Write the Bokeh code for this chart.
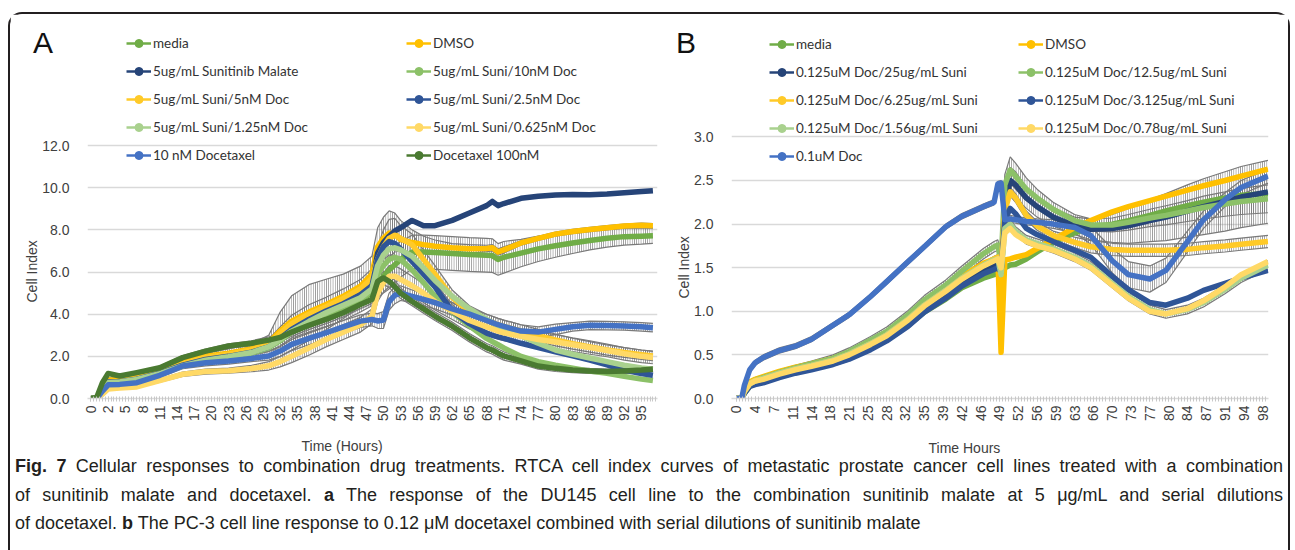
import math
from bokeh.plotting import figure
from bokeh.models import (Range1d, FixedTicker, NumeralTickFormatter, Legend, LegendItem,
                          Title, Div)
from bokeh.layouts import row, column
from bokeh.embed import file_html
from bokeh.resources import INLINE

NAN = float("nan")

# ---------------- Panel A data (x = category position, ticks every 3) ----------------
A_x = [0, 1, 2, 3, 5, 8, 12, 16, 20, 24, 28, 31, 33, 35, 38, 41, 44, 47, 49,
       50, 51, 52, 53, 54, 56, 58, 60, 63, 66, 69, 70, 71, 72, 75, 78, 81, 84, 87, 90, 93, 96, 98]
A_tick_labels = ["0", "2", "5", "8", "11", "14", "17", "20", "23", "26", "29", "32", "35", "38",
                 "41", "44", "47", "50", "53", "56", "59", "62", "65", "68", "71", "74", "77",
                 "80", "83", "86", "89", "92", "95"]
A_yticks = [0, 2, 4, 6, 8, 10, 12]

A_names = ["media", "DMSO", "5ug/mL Sunitinib Malate", "5ug/mL Suni/10nM Doc",
           "5ug/mL Suni/5nM Doc", "5ug/mL Suni/2.5nM Doc", "5ug/mL Suni/1.25nM Doc",
           "5ug/mL Suni/0.625nM Doc", "10 nM Docetaxel", "Docetaxel 100nM"]
A_colors = ["#70AD47", "#FFC000", "#264478", "#8CC168", "#FFCA28", "#2F5597",
            "#A9D18E", "#FFD966", "#4472C4", "#4A7A31"]

A_media = [0, 0, 0.45, 0.8, 0.82, 0.95, 1.22, 1.6, 1.9, 2.05, 2.25, 2.45, 2.75, 3.2, 3.6, 3.95, 4.3, 4.7, 5.0,
           5.5, 5.8, 6.1, 6.35, 6.6, 6.95, 6.95, 6.93, 6.88, 6.83, 6.8, 6.78, 6.6, 6.7, 6.9, 7.1, 7.25, 7.38, 7.5, 7.6, 7.68, 7.7, 7.72]
A_dmso = [0, 0, 0.5, 0.88, 0.88, 1.0, 1.32, 1.72, 2.0, 2.15, 2.35, 2.65, 3.2, 3.67, 4.1, 4.46, 4.85, 5.33, 5.9,
          7.2, 7.6, 7.85, 7.8, 7.55, 7.4, 7.3, 7.22, 7.15, 7.1, 7.12, 7.15, 6.95, 7.05, 7.38, 7.6, 7.8, 7.92, 8.02, 8.1, 8.18, 8.22, 8.2]
A_suni = [0, 0, 0.45, 0.78, 0.8, 0.92, 1.2, 1.58, 1.85, 2.0, 2.2, 2.5, 2.9, 3.35, 3.8, 4.15, 4.5, 4.95, 5.4,
          6.9, 7.4, 7.7, 7.95, 8.1, 8.45, 8.2, 8.2, 8.45, 8.8, 9.15, 9.35, 9.15, 9.25, 9.5, 9.6, 9.66, 9.68, 9.67, 9.7, 9.76, 9.82, 9.86]
A_doc10 = [0, 0, 0.42, 0.75, 0.78, 0.9, 1.18, 1.55, 1.82, 1.98, 2.15, 2.4, 2.75, 3.15, 3.55, 3.9, 4.25, 4.7, 5.1,
           5.9, 6.3, 6.6, 6.7, 6.6, 6.1, 5.5, 4.85, 4.1, 3.45, 2.85, 2.7, 2.55, 2.4, 2.0, 1.75, 1.58, 1.44, 1.3, 1.2, 1.05, 0.92, 0.85]
A_doc5 = [0, 0, 0.45, 0.8, 0.82, 0.95, 1.25, 1.65, 1.95, 2.1, 2.3, 2.6, 3.1, 3.55, 4.0, 4.35, 4.75, 5.2, 5.7,
          6.6, 7.2, 7.6, 7.75, 7.6, 7.3, 6.6, 5.9, 4.8, 4.1, 3.7, 3.6, 3.5, 3.42, 3.2, 2.98, 2.78, 2.6, 2.45, 2.3, 2.18, 2.08, 2.02]
A_doc2p5 = [0, 0, 0.45, 0.78, 0.8, 0.92, 1.2, 1.58, 1.85, 2.0, 2.2, 2.45, 2.85, 3.28, 3.75, 4.15, 4.5, 4.93, 5.35,
            6.6, 7.2, 7.45, 7.35, 7.1, 6.5, 5.9, 5.3, 4.15, 3.55, 3.1, 3.0, 2.92, 2.85, 2.62, 2.42, 2.22, 2.02, 1.82, 1.6, 1.35, 1.18, 1.1]
A_doc1p25 = [0, 0, 0.42, 0.75, 0.78, 0.9, 1.18, 1.55, 1.82, 1.98, 2.18, 2.45, 2.8, 3.2, 3.65, 4.07, 4.42, 4.78, 5.2,
             6.3, 6.8, 7.1, 7.15, 7.05, 6.75, 6.2, 5.6, 4.85, 4.25, 3.75, 3.6, 3.45, 3.3, 2.97, 2.62, 2.3, 2.1, 1.92, 1.75, 1.58, 1.45, 1.39]
A_doc0p625 = [0, 0, 0.2, 0.45, 0.5, 0.55, 0.85, 1.15, 1.28, 1.32, 1.42, 1.55, 1.75, 2.0, 2.4, 2.8, 3.15, 3.5, 3.9,
              5.0, 5.5, 5.8, 5.8, 5.65, 5.35, 5.0, 4.6, 4.15, 3.7, 3.4, 3.3, 3.2, 3.12, 2.95, 2.8, 2.68, 2.55, 2.42, 2.28, 2.12, 2.0, 1.95]
A_dtx10 = [0, 0, 0.35, 0.65, 0.67, 0.75, 1.1, 1.54, 1.7, 1.78, 1.9, 2.02, 2.25, 2.57, 2.85, 3.12, 3.4, 3.67, 3.75,
           3.68, 3.72, 4.6, 4.9, 5.0, 4.85, 4.7, 4.55, 4.25, 4.0, 3.7, 3.6, 3.5, 3.42, 3.2, 3.15, 3.28, 3.4, 3.47, 3.46, 3.44, 3.4, 3.36]
A_dtx100 = [0, 0.05, 0.75, 1.19, 1.07, 1.23, 1.46, 1.94, 2.25, 2.49, 2.62, 2.77, 2.9, 3.15, 3.47, 3.75, 4.07, 4.46, 4.7,
            5.56, 5.72, 5.56, 5.3, 5.0, 4.6, 4.25, 3.9, 3.43, 2.88, 2.41, 2.3, 2.15, 2.02, 1.78, 1.54, 1.43, 1.35, 1.31, 1.28, 1.31, 1.35, 1.39]

# error (SD) read from the grey whiskers
A_media_err = [0, 0, 0.05, 0.05, 0.05, 0.08, 0.1, 0.1, 0.1, 0.12, 0.15, 0.2, 0.3, 0.4, 0.5, 0.55, 0.6, 0.6, 0.6,
               0.7, 0.8, 0.9, 0.9, 0.85, 0.8, 0.8, 0.8, 0.8, 0.8, 0.8, 0.8, 0.75, 0.75, 0.65, 0.6, 0.55, 0.5, 0.45, 0.42, 0.4, 0.38, 0.36]
A_dmso_err = [0, 0, 0.05, 0.1, 0.1, 0.1, 0.12, 0.15, 0.15, 0.2, 0.25, 0.35, 0.9, 1.2, 1.3, 1.2, 1.05, 0.95, 0.85,
              0.9, 1.0, 1.05, 1.0, 0.9, 0.6, 0.4, 0.3, 0.2, 0.2, 0.15, 0.15, 0.15, 0.15, 0.1, 0.1, 0.1, 0.1, 0.1, 0.1, 0.1, 0.1, 0.1]
A_doc5_err = [0, 0, 0.03, 0.05, 0.05, 0.05, 0.08, 0.1, 0.1, 0.12, 0.15, 0.2, 0.3, 0.4, 0.45, 0.45, 0.45, 0.45, 0.45,
              0.6, 0.8, 0.9, 0.8, 0.6, 0.5, 0.45, 0.4, 0.35, 0.3, 0.3, 0.3, 0.3, 0.3, 0.3, 0.3, 0.28, 0.26, 0.25, 0.24, 0.23, 0.22, 0.22]
A_doc0p625_err = [0, 0, 0.03, 0.05, 0.05, 0.05, 0.08, 0.1, 0.12, 0.12, 0.15, 0.2, 0.25, 0.3, 0.35, 0.35, 0.35, 0.35, 0.35,
                  0.4, 0.45, 0.5, 0.5, 0.5, 0.45, 0.45, 0.4, 0.4, 0.4, 0.38, 0.38, 0.38, 0.38, 0.36, 0.35, 0.35, 0.33, 0.32, 0.3, 0.3, 0.3, 0.3]
A_dtx10_err = [0, 0, 0.03, 0.05, 0.05, 0.08, 0.1, 0.12, 0.15, 0.15, 0.15, 0.2, 0.25, 0.3, 0.3, 0.3, 0.3, 0.3, 0.3,
               0.35, 0.4, 0.4, 0.4, 0.35, 0.3, 0.3, 0.3, 0.3, 0.3, 0.3, 0.3, 0.3, 0.3, 0.3, 0.25, 0.25, 0.2, 0.2, 0.2, 0.2, 0.2, 0.2]
A_dtx100_err = [0, 0, 0.03, 0.05, 0.05, 0.05, 0.08, 0.1, 0.1, 0.1, 0.12, 0.15, 0.2, 0.2, 0.2, 0.2, 0.2, 0.2, 0.2,
                0.25, 0.3, 0.3, 0.3, 0.25, 0.2, 0.2, 0.2, 0.2, 0.2, 0.2, 0.2, 0.2, 0.2, 0.15, 0.15, 0.15, 0.12, 0.12, 0.12, 0.12, 0.12, 0.12]

# ---------------- Panel B data (x = hours) ----------------
B_x = [0, 1, 1.5, 2.5, 3.5, 5, 8, 11, 14, 18, 21, 25, 28, 32, 35, 39, 42, 46, 48, 48.7, 49.3,
       50, 51, 52, 54, 56, 59, 63, 66, 70, 73, 77, 80, 84, 87, 91, 94, 99]
B_tick_labels = ["0", "4", "7", "11", "14", "18", "21", "25", "28", "32", "35", "39", "42", "46", "49",
                 "52", "56", "59", "63", "66", "70", "73", "77", "80", "84", "87", "91", "94", "98"]
B_yticks = [0, 0.5, 1.0, 1.5, 2.0, 2.5, 3.0]

B_names = ["media", "DMSO", "0.125uM Doc/25ug/mL Suni", "0.125uM Doc/12.5ug/mL Suni",
           "0.125uM Doc/6.25ug/mL Suni", "0.125uM Doc/3.125ug/mL Suni", "0.125uM Doc/1.56ug/mL Suni",
           "0.125uM Doc/0.78ug/mL Suni", "0.1uM Doc"]
B_colors = ["#70AD47", "#FFC000", "#264478", "#8CC168", "#FFCA28", "#2F5597",
            "#A9D18E", "#FFD966", "#4472C4"]

B_media = [0, 0, 0.06, 0.14, 0.17, 0.19, 0.25, 0.3, 0.34, 0.4, 0.47, 0.58, 0.67, 0.84, 0.99, 1.14, 1.27, 1.38, 1.42, 1.43, 1.42,
           1.5, 1.53, 1.54, 1.6, 1.68, 1.79, 1.9, 1.96, 2.0, 2.04, 2.1, 2.15, 2.21, 2.25, 2.3, 2.33, 2.35]
B_dmso = [0, 0, 0.09, 0.19, 0.22, 0.25, 0.31, 0.36, 0.4, 0.46, 0.53, 0.65, 0.75, 0.93, 1.09, 1.26, 1.4, 1.55, 1.6, 1.62, 0.53,
          1.59, 1.6, 1.62, 1.65, 1.72, 1.82, 1.96, 2.04, 2.14, 2.2, 2.27, 2.32, 2.39, 2.44, 2.5, 2.55, 2.63]
B_s25 = [0, 0, 0.07, 0.15, 0.18, 0.2, 0.26, 0.31, 0.35, 0.41, 0.47, 0.59, 0.69, 0.86, 1.02, 1.19, 1.33, 1.47, 1.53, 1.55, 1.45,
         2.2, 2.5, 2.45, 2.3, 2.2, 2.08, 1.98, 1.94, 1.95, 1.98, 2.04, 2.08, 2.15, 2.2, 2.26, 2.31, 2.37]
B_s12p5 = [0, 0, 0.09, 0.18, 0.21, 0.24, 0.3, 0.35, 0.4, 0.46, 0.54, 0.67, 0.77, 0.96, 1.13, 1.3, 1.46, 1.66, 1.74, 1.76, 1.55,
           2.45, 2.62, 2.55, 2.4, 2.3, 2.17, 2.04, 1.99, 1.99, 2.02, 2.07, 2.1, 2.15, 2.19, 2.23, 2.26, 2.29]
B_s6p25 = [0, 0, 0.09, 0.18, 0.21, 0.23, 0.29, 0.34, 0.38, 0.44, 0.51, 0.63, 0.73, 0.91, 1.07, 1.24, 1.38, 1.53, 1.6, 1.62, 1.5,
           2.15, 2.37, 2.3, 2.1, 1.98, 1.87, 1.79, 1.74, 1.71, 1.7, 1.7, 1.7, 1.71, 1.73, 1.75, 1.77, 1.8]
B_s3p125 = [0, 0, 0.06, 0.14, 0.16, 0.18, 0.24, 0.29, 0.33, 0.39, 0.45, 0.56, 0.66, 0.83, 0.99, 1.15, 1.29, 1.43, 1.48, 1.5, 1.45,
            2.05, 2.18, 2.12, 1.95, 1.88, 1.8, 1.7, 1.62, 1.4, 1.25, 1.1, 1.07, 1.15, 1.24, 1.32, 1.38, 1.47]
B_s1p56 = [0, 0, 0.08, 0.17, 0.2, 0.23, 0.29, 0.34, 0.38, 0.44, 0.51, 0.63, 0.73, 0.91, 1.07, 1.24, 1.38, 1.53, 1.59, 1.6, 1.42,
           1.95, 2.0, 1.92, 1.82, 1.78, 1.72, 1.62, 1.52, 1.32, 1.17, 1.02, 0.97, 1.02, 1.1, 1.25, 1.38, 1.53]
B_s0p78 = [0, 0, 0.08, 0.17, 0.2, 0.22, 0.28, 0.33, 0.37, 0.43, 0.5, 0.62, 0.72, 0.9, 1.06, 1.23, 1.37, 1.52, 1.58, 1.6, 1.5,
           1.9, 1.95, 1.88, 1.8, 1.75, 1.7, 1.6, 1.5, 1.3, 1.15, 1.0, 0.97, 1.03, 1.12, 1.28, 1.42, 1.57]
B_doc = [0, 0, 0.15, 0.33, 0.41, 0.47, 0.55, 0.6, 0.68, 0.84, 0.96, 1.17, 1.34, 1.57, 1.74, 1.97, 2.09, 2.2, 2.25, 2.46, 2.47,
         2.05, 2.06, 2.05, 2.03, 2.02, 2.0, 1.96, 1.87, 1.58, 1.42, 1.37, 1.47, 1.8, 2.05, 2.28, 2.42, 2.55]

B_s25_err = [0, 0, 0.02, 0.03, 0.03, 0.03, 0.03, 0.03, 0.03, 0.04, 0.04, 0.04, 0.05, 0.05, 0.05, 0.05, 0.05, 0.06, 0.06, 0.06, 0.1,
             0.15, 0.15, 0.15, 0.12, 0.12, 0.1, 0.1, 0.12, 0.16, 0.2, 0.24, 0.27, 0.3, 0.32, 0.34, 0.35, 0.36]
B_s12p5_err = [0, 0, 0.02, 0.03, 0.03, 0.03, 0.03, 0.03, 0.03, 0.04, 0.04, 0.04, 0.05, 0.05, 0.05, 0.06, 0.06, 0.06, 0.06, 0.06, 0.1,
               0.12, 0.15, 0.15, 0.13, 0.1, 0.08, 0.07, 0.07, 0.08, 0.09, 0.1, 0.11, 0.12, 0.13, 0.14, 0.15, 0.16]
B_s6p25_err = [0, 0, 0.02, 0.03, 0.03, 0.03, 0.03, 0.03, 0.03, 0.03, 0.03, 0.03, 0.03, 0.03, 0.03, 0.03, 0.03, 0.03, 0.03, 0.03, 0.03,
               0.05, 0.05, 0.05, 0.05, 0.05, 0.05, 0.06, 0.07, 0.07, 0.07, 0.07, 0.07, 0.07, 0.07, 0.07, 0.07, 0.07]
B_s1p56_err = [0, 0, 0.02, 0.03, 0.03, 0.03, 0.03, 0.03, 0.03, 0.03, 0.03, 0.03, 0.03, 0.03, 0.03, 0.03, 0.03, 0.03, 0.03, 0.03, 0.03,
               0.05, 0.05, 0.05, 0.05, 0.05, 0.05, 0.05, 0.05, 0.05, 0.05, 0.05, 0.05, 0.05, 0.05, 0.05, 0.05, 0.05]
B_doc_err = [0, 0, 0.02, 0.03, 0.03, 0.03, 0.03, 0.03, 0.03, 0.03, 0.03, 0.03, 0.03, 0.03, 0.03, 0.03, 0.03, 0.03, 0.03, 0.03, 0.03,
             0.04, 0.04, 0.04, 0.04, 0.04, 0.05, 0.06, 0.1, 0.14, 0.15, 0.15, 0.14, 0.12, 0.1, 0.08, 0.08, 0.08]

CAPTION = [
    "<b>Fig. 7</b> Cellular responses to combination drug treatments. RTCA cell index curves of metastatic prostate cancer cell lines treated with a combination",
    "of sunitinib malate and docetaxel. <b>a</b> The response of the DU145 cell line to the combination sunitinib malate at 5 \u03bcg/mL and serial dilutions",
    "of docetaxel. <b>b</b> The PC-3 cell line response to 0.12 \u03bcM docetaxel combined with serial dilutions of sunitinib malate",
]
PANEL_LETTERS = ["A", "B"]

AXIS_FONT = "Liberation Sans"
LEG_FONT = "Lato"
GRID = "#d9d9d9"
TXT = "#404040"
FIG_H = 455


def make_panel(width, borders, xr, yr, yticks, tick_step, tick_labels, x, series, colors, names,
               errs, leg_cols, ylab_off, xlab_off, xlab_standoff, xlab_text):
    mbl, mbr, mbt, mbb = borders
    p = figure(width=width, height=FIG_H, x_range=Range1d(*xr), y_range=Range1d(*yr),
               output_backend="svg", toolbar_location=None,
               min_border_left=mbl, min_border_right=mbr, min_border_top=mbt, min_border_bottom=mbb)
    p.outline_line_color = None
    p.background_fill_color = "white"
    p.border_fill_color = "white"
    p.xgrid.visible = False
    p.ygrid.ticker = FixedTicker(ticks=yticks)
    p.ygrid.grid_line_color = GRID
    p.ygrid.grid_line_width = 1.3

    ya = p.yaxis[0]
    ya.ticker = FixedTicker(ticks=yticks)
    ya.formatter = NumeralTickFormatter(format="0.0")
    ya.axis_line_color = None
    ya.major_tick_line_color = None
    ya.minor_tick_line_color = None
    ya.major_label_text_font = AXIS_FONT
    ya.major_label_text_font_size = "14px"
    ya.major_label_text_color = TXT
    ya.major_label_standoff = 12

    ticks = [i * tick_step for i in range(len(tick_labels))]
    minor = [k * tick_step / 6 for k in range(len(tick_labels) * 6 + 3)]
    xa = p.xaxis[0]
    xa.ticker = FixedTicker(ticks=ticks, minor_ticks=minor)
    xa.major_label_overrides = {t: lab for t, lab in zip(ticks, tick_labels)}
    xa.major_label_orientation = math.pi / 2
    xa.axis_line_color = GRID
    xa.axis_line_width = 1.3
    xa.major_tick_line_color = "#c8c8c8"
    xa.major_tick_in = 2
    xa.major_tick_out = 3
    xa.minor_tick_line_color = "#c8c8c8"
    xa.minor_tick_in = 2
    xa.minor_tick_out = 3
    xa.major_label_text_font = AXIS_FONT
    xa.major_label_text_font_size = "14px"
    xa.major_label_text_color = TXT
    xa.major_label_standoff = 4

    # error bars (grey whiskers) as densely hatched bands
    for idx, err in errs.items():
        ys = series[idx]
        lo = [v - e for v, e in zip(ys, err)]
        hi = [v + e for v, e in zip(ys, err)]
        p.varea(x=x, y1=lo, y2=hi, fill_alpha=0, hatch_pattern="vertical_line",
                hatch_color="#6e6e6e", hatch_alpha=0.9, hatch_scale=2.2, hatch_weight=1)
        p.line(x, hi, line_color="#7a7a7a", line_width=1.2)
        p.line(x, lo, line_color="#7a7a7a", line_width=1.2)

    items = []
    for ys, c, n in zip(series, colors, names):
        p.line(x, ys, line_color=c, line_width=5.5, line_join="round")
        # legend key (no visible data)
        pl = p.line([NAN], [NAN], line_color=c, line_width=2.5)
        ps = p.scatter([NAN], [NAN], marker="circle", size=7, fill_color=c, line_color=c)
        items.append(LegendItem(label=n, renderers=[pl, ps]))

    for rows_idx, loc in leg_cols:
        leg = Legend(items=[items[i] for i in rows_idx], location=loc,
                     border_line_color=None, background_fill_alpha=0, padding=0, margin=0,
                     spacing=8, glyph_width=25, glyph_height=20, label_height=20,
                     label_standoff=2, label_text_font=LEG_FONT, label_text_font_size="13.5px",
                     label_text_color="#333333")
        p.add_layout(leg)

    p.add_layout(Title(text="Cell Index", align="left", offset=ylab_off, standoff=0,
                       text_font=AXIS_FONT, text_font_size="14px", text_font_style="normal",
                       text_color=TXT), "left")
    p.add_layout(Title(text=xlab_text, align="left", offset=xlab_off, standoff=xlab_standoff,
                       text_font=AXIS_FONT, text_font_size="14px", text_font_style="normal",
                       text_color=TXT), "below")
    return p


A_series = [A_media, A_dmso, A_suni, A_doc10, A_doc5, A_doc2p5, A_doc1p25, A_doc0p625, A_dtx10, A_dtx100]
A_errs = {0: A_media_err, 1: A_dmso_err, 4: A_doc5_err, 7: A_doc0p625_err, 8: A_dtx10_err, 9: A_dtx100_err}
pA = make_panel(650, (77, 3, 16, FIG_H - 16 - 369), (-0.6, 98.8), (0, 17.46), A_yticks, 3, A_tick_labels, A_x,
                A_series, A_colors, A_names, A_errs,
                [([0, 2, 4, 6, 8], (39, 233)), ([1, 3, 5, 7, 9], (319, 233))],
                96, 214, 22, "Time (Hours)")

B_series = [B_media, B_dmso, B_s25, B_s12p5, B_s6p25, B_s3p125, B_s1p56, B_s0p78, B_doc]
B_errs = {2: B_s25_err, 3: B_s12p5_err, 4: B_s6p25_err, 6: B_s1p56_err, 8: B_doc_err}
pB = make_panel(628, (71, 20, 16, FIG_H - 16 - 368), (-0.9, 99.1), (0, 4.22), B_yticks, 3.5, B_tick_labels, B_x,
                B_series, B_colors, B_names, B_errs,
                [([0, 2, 4, 6, 8], (38, 232)), ([1, 3, 5, 7], (287, 260))],
                100, 197, 26, "Time  Hours")

CAP_H = 550 - 14 - FIG_H
letter_css = ("position:absolute;top:-%dpx;font-family:'Liberation Sans',sans-serif;font-size:30px;"
              "line-height:30px;color:#111111;" % (14 + FIG_H - 28))
line_css = "display:block;white-space:nowrap;"
just_css = "text-align:justify;text-align-last:justify;"
cap_html = (
    '<div style="position:relative;width:1270px;height:%dpx;overflow:visible;">' % CAP_H +
    '<div style="%sleft:23px;">%s</div>' % (letter_css, PANEL_LETTERS[0]) +
    '<div style="%sleft:666px;">%s</div>' % (letter_css, PANEL_LETTERS[1]) +
    '<div style="position:absolute;left:5px;top:%dpx;width:1268px;font-family:\'Liberation Sans\',sans-serif;'
    'font-size:18px;line-height:28.5px;color:#231f20;">' % (466 - (14 + FIG_H) - 14) +
    '<div style="%s%s">%s</div>' % (line_css, just_css, CAPTION[0]) +
    '<div style="%s%s">%s</div>' % (line_css, just_css, CAPTION[1]) +
    '<div style="%s">%s</div>' % (line_css, CAPTION[2]) + '</div></div>')
cap = Div(text=cap_html, width=1278, height=CAP_H, margin=(0, 0, 0, 0),
          styles={"overflow": "visible"})

root = column(row(pA, pB, margin=(0, 0, 0, 0)), cap, margin=(12, 0, 0, 8),
              styles={"border": "2px solid #231f20", "border-bottom": "none",
                      "border-radius": "14px 14px 0 0", "background-color": "white"})

open("out.html", "w").write(file_html(root, INLINE))
